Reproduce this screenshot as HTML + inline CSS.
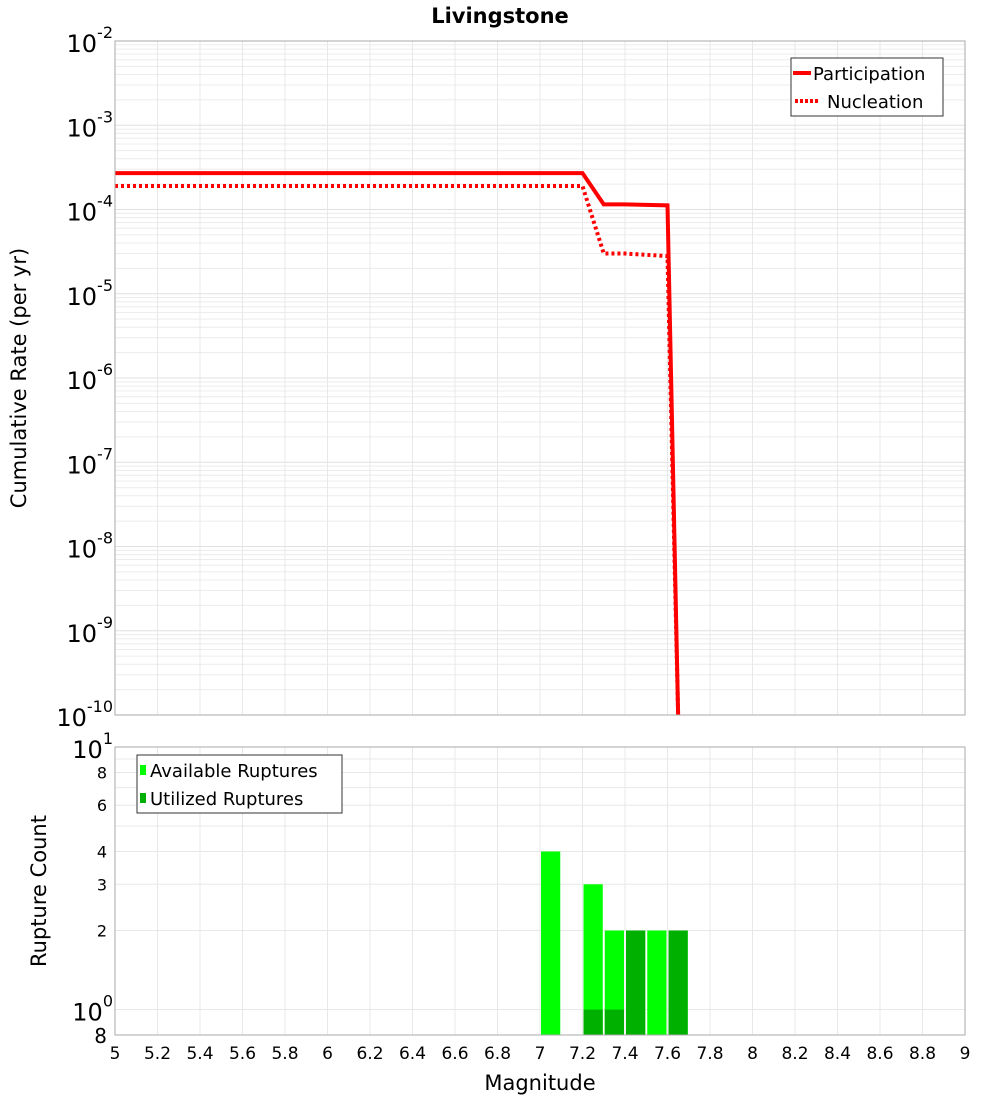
<!DOCTYPE html>
<html><head><meta charset="utf-8"><style>
body{margin:0;background:#fff;font-family:"DejaVu Sans","Liberation Sans",sans-serif}
svg text{font-family:"DejaVu Sans","Liberation Sans",sans-serif}
</style></head><body>
<svg id="c" width="1000" height="1100" xmlns="http://www.w3.org/2000/svg">
<text x="500" y="23" text-anchor="middle" font-size="21" font-weight="bold">Livingstone</text>
<text transform="translate(26,378) rotate(-90)" text-anchor="middle" font-size="21">Cumulative Rate (per yr)</text>
<text transform="translate(46,891) rotate(-90)" text-anchor="middle" font-size="21">Rupture Count</text>
<text x="540" y="1090" text-anchor="middle" font-size="21">Magnitude</text>
<g id="g"></g>
</svg>
<script>
const partMag=[5,7.2,7.3,7.4,7.6,7.65];
const partRate=[2.7e-4,2.7e-4,1.15e-4,1.15e-4,1.12e-4,1e-10];
const nuclMag=[5,7.2,7.3,7.4,7.6,7.65];
const nuclRate=[1.9e-4,1.9e-4,3.0e-5,3.0e-5,2.8e-5,1e-10];
const barMag=[7.0,7.2,7.3,7.4,7.5,7.6];
const availCount=[4,3,2,2,2,2];
const utilMag=[7.2,7.3,7.4,7.6];
const utilCount=[1,1,2,2];
const xTicks=[5,5.2,5.4,5.6,5.8,6,6.2,6.4,6.6,6.8,7,7.2,7.4,7.6,7.8,8,8.2,8.4,8.6,8.8,9];
const topExp=[-2,-3,-4,-5,-6,-7,-8,-9,-10];
const botTicks=[8,6,4,3,2];

const NS="http://www.w3.org/2000/svg";
const g=document.getElementById('g');
const L=115,R=965,T1=41,B1=715,T2=747,B2=1035;
const x=m=>L+(m-5)/4*(R-L);
const y1=v=>T1+(-2-Math.log10(v))*(B1-T1)/8;
const y2=v=>T2+(1-Math.log10(v))*(B2-T2)/(1-Math.log10(0.8));
function mk(t,a){const e=document.createElementNS(NS,t);for(const k in a)e.setAttribute(k,a[k]);g.appendChild(e);return e;}

// top grid
for(let d=-10;d<-2;d++)for(let k=1;k<10;k++){const yy=y1(k*Math.pow(10,d));
const e=mk('line',{x1:L,x2:R,y1:yy,y2:yy,stroke:k==1?'#e0e0e0':'#ececec','stroke-width':1});
}
for(const t of xTicks){const e=mk('line',{x1:x(t),x2:x(t),y1:T1,y2:B1,stroke:'#e8e8e8'});

const f=mk('line',{x1:x(t),x2:x(t),y1:T2,y2:B2,stroke:'#e8e8e8'});
}
for(let k=1;k<=10;k++){const yy=y2(k);if(yy<T2-0.5)continue;
const e=mk('line',{x1:L,x2:R,y1:yy,y2:yy,stroke:'#e8e8e8'});
}

// lines
function pl(ms,vs,dash,name){const p=ms.map((m,i)=>x(m)+','+Math.min(y1(vs[i]),B1+2)).join(' ');
const a={points:p,fill:'none',stroke:'#ff0000','stroke-width':4};if(dash)a['stroke-dasharray']='3,3';
const e=mk('polyline',a);}
pl(partMag,partRate,false,'participation-line');
pl(nuclMag,nuclRate,true,'nucleation-line');

// bars
const bw=(R-L)/40;
barMag.forEach((m,i)=>{const yy=y2(availCount[i]);const e=mk('rect',{x:x(m)+1,y:yy,width:bw-2,height:B2-yy,fill:'#00ff00'});
});
utilMag.forEach((m,i)=>{const yy=y2(utilCount[i]);const e=mk('rect',{x:x(m)+1,y:yy,width:bw-2,height:B2-yy,fill:'#00b000'});
});

// frames
[[T1,B1],[T2,B2]].forEach(([a,b])=>{const e=mk('rect',{x:L,y:a,width:R-L,height:b-a,fill:'none',stroke:'#aaa'});
});

// top tick labels
topExp.forEach(ex=>{const yy=y1(Math.pow(10,ex));
const t=mk('text',{x:L-2,y:yy+11,'text-anchor':'end','font-size':24});

t.innerHTML='10<tspan dy="-14" font-size="16">'+ex+'</tspan>';});
// bottom tick labels
{const t=mk('text',{x:L-2,y:y2(10)+11,'text-anchor':'end','font-size':24});

t.innerHTML='10<tspan dy="-14" font-size="16">1</tspan>';
const u=mk('text',{x:L-2,y:y2(1)+11,'text-anchor':'end','font-size':24});

u.innerHTML='10<tspan dy="-14" font-size="16">0</tspan>';}
botTicks.forEach(v=>{const t=mk('text',{x:L-8,y:y2(v)+6,'text-anchor':'end','font-size':v==8&&false?20:16});
t.textContent=v;});
{const t=mk('text',{x:L-8,y:y2(0.8)+8,'text-anchor':'end','font-size':20});
t.textContent='8';}
xTicks.forEach(v=>{const t=mk('text',{x:x(v),y:1059,'text-anchor':'middle','font-size':17});
t.textContent=String(v);});
</script>
<svg style="position:absolute;left:0;top:0" width="1000" height="1100">
<g>
<rect x="791" y="58" width="152" height="58" fill="#fff" stroke="#333"/>
<line x1="793" y1="73" x2="811" y2="73" stroke="#f00" stroke-width="4"/>
<text x="813" y="80" font-size="18" font-family="DejaVu Sans, Liberation Sans, sans-serif">Participation</text>
<line x1="795" y1="101" x2="820" y2="101" stroke="#f00" stroke-width="4" stroke-dasharray="3,2"/>
<text x="827" y="108" font-size="18" font-family="DejaVu Sans, Liberation Sans, sans-serif">Nucleation</text>
</g>
<g>
<rect x="137" y="755" width="205" height="58" fill="#fff" stroke="#333"/>
<rect x="140" y="765" width="6" height="10" fill="#00ff00"/>
<text x="150" y="777" font-size="18" font-family="DejaVu Sans, Liberation Sans, sans-serif">Available Ruptures</text>
<rect x="140" y="793" width="6" height="10" fill="#00b000"/>
<text x="150" y="805" font-size="18" font-family="DejaVu Sans, Liberation Sans, sans-serif">Utilized Ruptures</text>
</g>
</svg>
</body></html>
